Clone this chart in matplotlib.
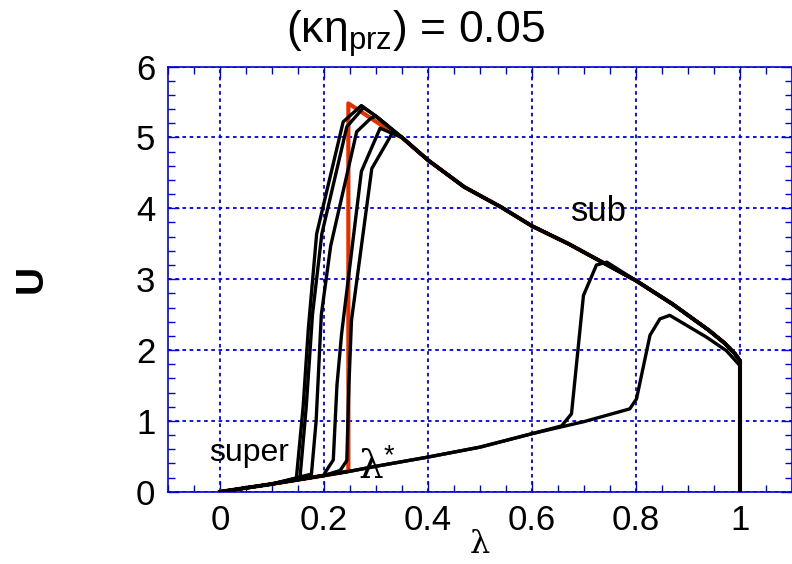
import numpy as np
import matplotlib
matplotlib.use('Agg')
import matplotlib.pyplot as plt
from matplotlib.ticker import MultipleLocator

plt.rcParams['font.family'] = ['Liberation Sans Narrow', 'Liberation Sans', 'DejaVu Sans']
plt.rcParams['mathtext.fontset'] = 'custom'
plt.rcParams['mathtext.rm'] = 'Liberation Sans'

# lower (super) branch
low_x = [0.0, 0.1, 0.2, 0.25, 0.3, 0.4, 0.5, 0.6, 0.7, 0.8]
low_y = [0.0, 0.11, 0.23, 0.29, 0.36, 0.49, 0.63, 0.82, 0.99, 1.2]

# upper (sub) branch
up_x = [0.27, 0.3, 0.35, 0.4, 0.47, 0.54, 0.6, 0.67, 0.73, 0.8, 0.87, 0.94, 0.97, 0.99, 1.0]
up_y = [5.45, 5.3, 5.0, 4.68, 4.3, 4.02, 3.75, 3.5, 3.26, 2.98, 2.65, 2.28, 2.1, 1.95, 1.85]

# transition pieces of each black curve (from lower branch up to upper branch)
jumps = {
    'A': ([0.147, 0.160, 0.170, 0.186, 0.237, 0.272], [0.19, 1.2, 2.3, 3.64, 5.22, 5.45]),
    'B': ([0.154, 0.166, 0.178, 0.196, 0.244, 0.276], [0.20, 1.2, 2.5, 3.64, 5.15, 5.42]),
    'C': ([0.176, 0.185, 0.195, 0.213, 0.263, 0.29], [0.25, 1.0, 2.5, 3.47, 5.08, 5.27]),
    'D': ([0.202, 0.218, 0.225, 0.234, 0.272, 0.308], [0.27, 0.45, 1.5, 2.23, 4.52, 5.13]),
    'E': ([0.231, 0.244, 0.248, 0.253, 0.292, 0.333], [0.30, 0.44, 1.5, 2.42, 4.56, 5.08]),
    'F': ([0.657, 0.676, 0.699, 0.724, 0.744], [0.93, 1.10, 2.77, 3.20, 3.24]),
}
# curve that stays below the sub branch
g_x = [0.788, 0.801, 0.827, 0.846, 0.865, 0.936, 0.974, 1.0, 1.0]
g_y = [1.17, 1.31, 2.21, 2.44, 2.49, 2.18, 1.99, 1.78, 0.0]

# red reference curve (sharp jump)
red_x = [0.247, 0.247, 0.33]
red_y = [0.29, 5.48, 5.08]


def branch(xs, ys, x0, x1):
    xs = np.array(xs)
    ys = np.array(ys)
    m = (xs > x0) & (xs < x1)
    return list(xs[m]), list(ys[m])


fig = plt.figure(figsize=(7.92, 5.64), dpi=100)
ax = fig.add_axes([0.212, 0.128, 0.788, 0.754])

blue = '#0000dd'

# red curve
lx, ly = branch(low_x, low_y, -1, 0.247)
ux, uy = branch(up_x, up_y, 0.33, 1.01)
ax.plot(lx + red_x + ux + [1.0], ly + red_y + uy + [0.0],
        color='#dd3300', lw=3.0, zorder=2)

# black curves
for key, (jx, jy) in jumps.items():
    lx, ly = branch(low_x, low_y, -1, jx[0])
    ux, uy = branch(up_x, up_y, jx[-1], 1.01)
    ax.plot(lx + jx + ux + [1.0], ly + jy + uy + [0.0],
            color='black', lw=2.4, zorder=3)

lx, ly = branch(low_x, low_y, -1, g_x[0])
ax.plot(lx + g_x, ly + g_y, color='black', lw=2.4, zorder=3)

ax.set_xlim(-0.1, 1.1)
ax.set_ylim(0, 6)
ax.xaxis.set_major_locator(MultipleLocator(0.2))
ax.xaxis.set_minor_locator(MultipleLocator(0.05))
ax.yaxis.set_major_locator(MultipleLocator(1))
ax.yaxis.set_minor_locator(MultipleLocator(0.2))
ax.set_xticks([0, 0.2, 0.4, 0.6, 0.8, 1.0])
ax.set_xticklabels(['0', '0.2', '0.4', '0.6', '0.8', '1'])
ax.tick_params(which='both', direction='in', top=True, right=True,
               color=blue, labelsize=25, pad=9)
ax.tick_params(which='major', length=8, width=1)
ax.tick_params(which='minor', length=5, width=1)
ax.grid(True, which='major', color=blue, linestyle=(0, (2, 2)), lw=1.3)
for sp in ax.spines.values():
    sp.set_color(blue)
    sp.set_linestyle((0, (2, 1)))
    sp.set_linewidth(1.2)

# x label placed by hand so it stays inside the figure
fig.text(0.606, 0.035, 'λ', fontsize=23, family=['DejaVu Serif'],
         ha='center', va='center')
ax.set_ylabel('U', fontsize=28, fontweight='bold', labelpad=62,
              family=['Liberation Sans'])

ax.text(-0.02, 0.55, 'super', fontsize=23, family=['Liberation Sans'],
        ha='left', va='center')
ax.text(0.675, 3.95, 'sub', fontsize=25, family=['Liberation Sans'],
        ha='left', va='center')
ax.text(0.265, 0.33, r'λ$^{*}$', fontsize=28, family=['DejaVu Serif'],
        ha='left', va='center')

fig.text(0.525, 0.94, r'(κη$_{\mathregular{prz}}$) = 0.05', fontsize=32,
         family=['Liberation Sans'], ha='center', va='center')

fig.savefig('out.png', dpi=100)
